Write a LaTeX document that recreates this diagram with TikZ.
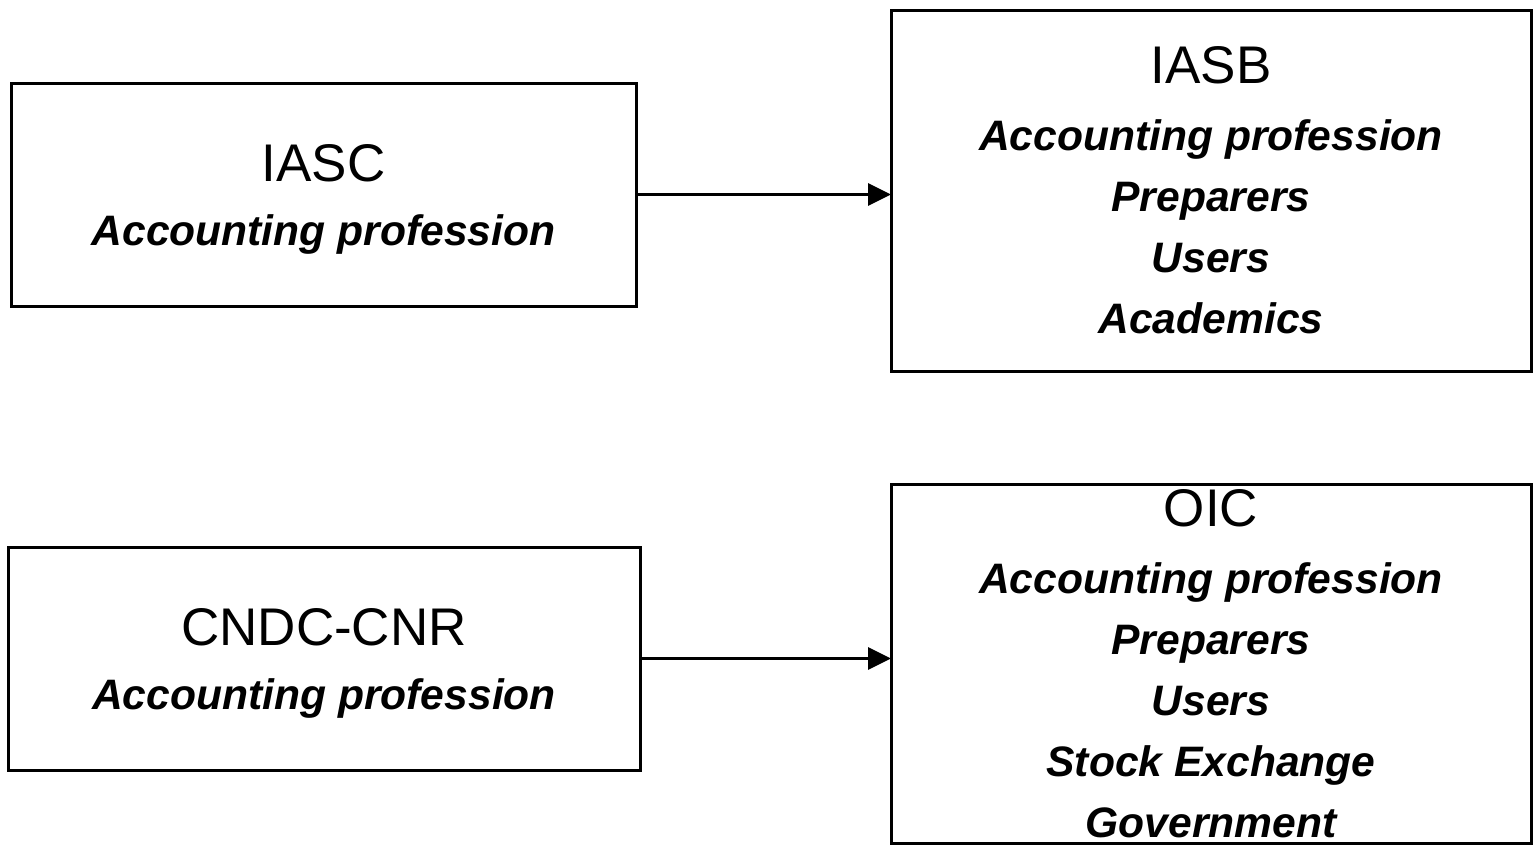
\documentclass[tikz,border=0pt]{standalone}
\usepackage{fontspec}
\setmainfont{Liberation Sans}
\usetikzlibrary{arrows.meta}
\newcommand{\titlefont}{\fontsize{26.5}{30.5}\selectfont\mdseries\upshape}
\tikzset{
  orgbox/.style={draw, line width=1.5pt, rectangle, inner sep=0pt, outer sep=0pt,
    align=center, font=\fontsize{21.3}{30.5}\selectfont\bfseries\itshape},
  flow/.style={line width=1.5pt, -{Triangle[length=11.5pt,width=11pt]}}
}
\begin{document}
\begin{tikzpicture}[x=0.5pt,y=-0.5pt]
\useasboundingbox (0,0) rectangle (1533,846);
\node[orgbox, minimum width=312.5pt, minimum height=111.5pt] (iasc) at (323.5,194.5)
  {{\titlefont\rule{0pt}{23.4pt}IASC}\\[1.5pt] Accounting profession};
\node[orgbox, minimum width=320pt, minimum height=180.5pt] (iasb) at (1211,190.5)
  {{\titlefont IASB}\\[3pt] Accounting profession\\ Preparers\\ Users\\ Academics};
\node[orgbox, minimum width=316pt, minimum height=111.5pt] (cndc) at (324,658.5)
  {{\titlefont\rule{0pt}{23.4pt}CNDC-CNR}\\[1.5pt] Accounting profession};
\node[orgbox, minimum width=320pt, minimum height=179.5pt] (oic) at (1211,663.5)
  {{\titlefont OIC}\\[3pt] Accounting profession\\ Preparers\\ Users\\ Stock Exchange\\ Government};
\draw[flow] (iasc.east) -- (iasc.east -| iasb.west);
\draw[flow] (cndc.east) -- (cndc.east -| oic.west);
\end{tikzpicture}
\end{document}
